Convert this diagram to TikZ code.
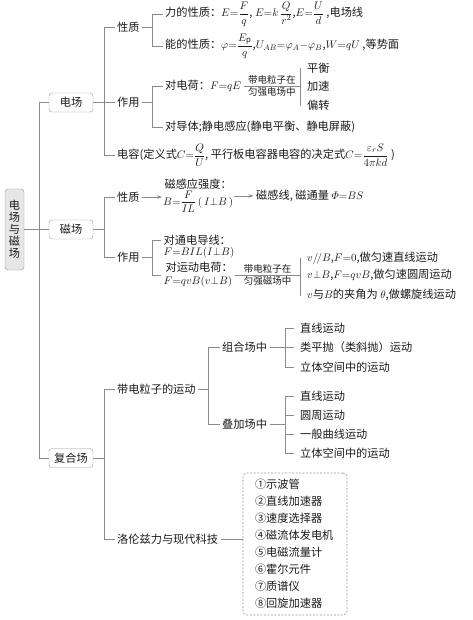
\documentclass[tikz,border=0pt]{standalone}
\usepackage{amsmath}
\usepackage{fontspec}
\setmainfont{Noto Sans CJK SC}
\usetikzlibrary{arrows.meta}
\definecolor{lc}{HTML}{8A8A8A}
\definecolor{bc}{HTML}{999999}
\definecolor{rootfill}{HTML}{E6E6E6}
\definecolor{tc}{HTML}{1A1A1A}
\newcommand\mainfs{\fontsize{11.2}{13}\selectfont}
\newcommand\smallfs{\fontsize{9.5}{11}\selectfont}
\begin{document}
\begin{tikzpicture}[x=1pt,y=-1pt,
  ln/.style={draw=lc, line width=0.7pt},
  arr/.style={-{Stealth[length=5pt,width=3.6pt]}},
  tx/.style={anchor=west, inner xsep=2.5pt, inner ysep=1pt, font=\mainfs, text=tc},
  tick/.style={anchor=west, inner xsep=6pt, inner ysep=1pt, font=\mainfs, text=tc},
  fbox/.style={draw=bc, rounded corners=3pt, minimum width=44pt, minimum height=19pt, inner sep=0pt, fill=white, font=\mainfs, text=tc},
  small/.style={font=\smallfs, inner sep=1.5pt, text=tc}]
\useasboundingbox (0,0) rectangle (473,620);

% root and field boxes
\node[fbox, fill=rootfill, minimum width=19pt, minimum height=81pt, align=center, font=\fontsize{11.2}{12}\selectfont] (root) at (14.5,229.5) {电\\场\\与\\磁\\场};
\node[fbox] (dc) at (71,102.5) {电场};
\node[fbox] (cc) at (71,229.5) {磁场};
\node[fbox] (fh) at (71,458) {复合场};

\draw[ln] (root.east) -- (cc.west);
\draw[ln] (dc.west) -- ++(-9,0) coordinate (tk) -- (tk |- fh.west) -- (fh.west);

\coordinate (b1) at (104,0);
\coordinate (b2) at (152,0);
\coordinate (b3) at (300,0);
\coordinate (b4) at (208,0);
\coordinate (b5) at (285,0);

% ---------- 电场 ----------
\node[tx] (xz1) at (114.5,27) {性质};
\node[tx] (zy1) at (114.5,102.5) {作用};
\node[tx] (dr) at (114.5,155) {电容(定义式$C{=}\dfrac{Q}{U}$, 平行板电容器电容的决定式$C{=}\dfrac{\varepsilon_{r}S}{4\pi kd}$ )};
\draw[ln] (dc.east) -- (zy1.west);
\draw[ln] (xz1.west) -| (b1 |- dr.west) -- (dr.west);

\node[tx] (l1) at (162.5,14) {力的性质：$E{=}\dfrac{F}{q}$, $E{=}k\,\dfrac{Q}{r^{2}}$,$E{=}\dfrac{U}{d}$ ,电场线};
\node[tx] (l2) at (162.5,46) {能的性质：$\varphi{=}\dfrac{E_{\mathrm{p}}}{q}$,$U_{AB}{=}\varphi_{A}{-}\varphi_{B}$,$W{=}qU$ ,等势面};
\draw[ln] (xz1.east) -- (b2 |- xz1.east);
\draw[ln] (l1.west) -| (b2 |- l2.west) -- (l2.west);

\node[tx] (ch) at (162.5,86) {对电荷：$F{=}qE$};
\node[tx] (dt) at (162.5,127) {对导体;静电感应(静电平衡、静电屏蔽)};
\draw[ln] (zy1.east) -- (b2 |- zy1.east);
\draw[ln] (ch.west) -| (b2 |- dt.west) -- (dt.west);

\draw[ln] (ch.east) -- node[small,above]{带电粒子在} node[small,below]{匀强电场中} (b3 |- ch.east);
\node[tick] (ph) at (301,68) {平衡};
\node[tick] (js) at (301,86) {加速};
\node[tick] (pz) at (301,105) {偏转};
\draw[ln] (ph.west) -| (b3 |- pz.west) -- (pz.west);
\draw[ln] (b3 |- js.west) -- (js.west);

% ---------- 磁场 ----------
\node[tx] (xz2) at (114.5,197) {性质};
\node[tx] (zy2) at (114.5,257) {作用};
\draw[ln] (cc.east) -- (b1 |- cc.east);
\draw[ln] (xz2.west) -| (b1 |- zy2.west) -- (zy2.west);

\node[anchor=west, inner sep=1pt, align=center, font=\fontsize{11.2}{12}\selectfont, text=tc] (mg) at (162,196) {磁感应强度：\\$B{=}\dfrac{F}{IL}\,(\,I{\perp}B\,)$};
\node[tx] (mc) at (253.5,196) {磁感线, 磁通量 $\varPhi{=}BS$};
\draw[ln,arr] (xz2.east) -- (mg.west |- xz2.east);
\draw[ln,arr] (mg.east) -- (mc.west);

\node[tx] (tl1) at (161,240) {对通电导线：};
\node[tx] (tl2) at (161,253) {$F{=}BIL(I{\perp}B)$};
\node[anchor=west, inner xsep=2.5pt, inner ysep=1pt, align=left, font=\fontsize{11.2}{13}\selectfont, text=tc] (yd) at (161,275) {\,对运动电荷：\\$F{=}qvB(v{\perp}B)$};
\draw[ln] (zy2.east) -- (b2 |- zy2.east);
\draw[ln] (tl1.west) -| (b2 |- yd.west) -- (yd.west);

\draw[ln] (yd.east) -- node[small,above]{带电粒子在} node[small,below]{匀强磁场中} (b3 |- yd.east);
\node[tick] (m1) at (301,258) {$v/\!/B$,$F{=}0$,做匀速直线运动};
\node[tick] (m2) at (301,275) {$v{\perp}B$,$F{=}qvB$,做匀速圆周运动};
\node[tick] (m3) at (301,295) {$v$与$B$的夹角为 $\theta$,做螺旋线运动};
\draw[ln] (m1.west) -| (b3 |- m3.west) -- (m3.west);
\draw[ln] (b3 |- m2.west) -- (m2.west);

% ---------- 复合场 ----------
\node[tx] (yd3) at (114.5,389) {带电粒子的运动};
\node[tx] (lz) at (114.5,539) {洛伦兹力与现代科技};
\draw[ln] (fh.east) -- (b1 |- fh.east);
\draw[ln] (yd3.west) -| (b1 |- lz.west) -- (lz.west);

\node[tx] (zh) at (219.5,347) {组合场中};
\node[tx] (dj) at (219.5,424) {叠加场中};
\draw[ln] (yd3.east) -- (b4 |- yd3.east);
\draw[ln] (zh.west) -| (b4 |- dj.west) -- (dj.west);

\node[tick] (z1) at (294,328) {直线运动};
\node[tick] (z2) at (294,347) {类平抛（类斜抛）运动};
\node[tick] (z3) at (294,367) {立体空间中的运动};
\draw[ln] (zh.east) -- (b5 |- zh.east);
\draw[ln] (z1.west) -| (b5 |- z3.west) -- (z3.west);
\draw[ln] (b5 |- z2.west) -- (z2.west);

\node[tick] (d1) at (294,396) {直线运动};
\node[tick] (d2) at (294,415) {圆周运动};
\node[tick] (d3) at (294,434) {一般曲线运动};
\node[tick] (d4) at (294,453) {立体空间中的运动};
\draw[ln] (dj.east) -- (b5 |- dj.east);
\draw[ln] (d1.west) -| (b5 |- d4.west) -- (d4.west);
\draw[ln] (b5 |- d2.west) -- (d2.west);
\draw[ln] (b5 |- d3.west) -- (d3.west);

\node[draw=bc, dash pattern=on 2pt off 1.5pt, rounded corners=4pt, line width=0.7pt,
      text width=80pt, inner xsep=12pt, inner ysep=0pt, minimum height=142pt, align=left,
      font=\fontsize{11.2}{17}\selectfont, text=tc] (kj) at (295,544)
  {①示波管\\②直线加速器\\③速度选择器\\④磁流体发电机\\⑤电磁流量计\\⑥霍尔元件\\⑦质谱仪\\⑧回旋加速器};
\draw[ln] (lz.east) -- (lz.east -| kj.west);
\end{tikzpicture}
\end{document}
